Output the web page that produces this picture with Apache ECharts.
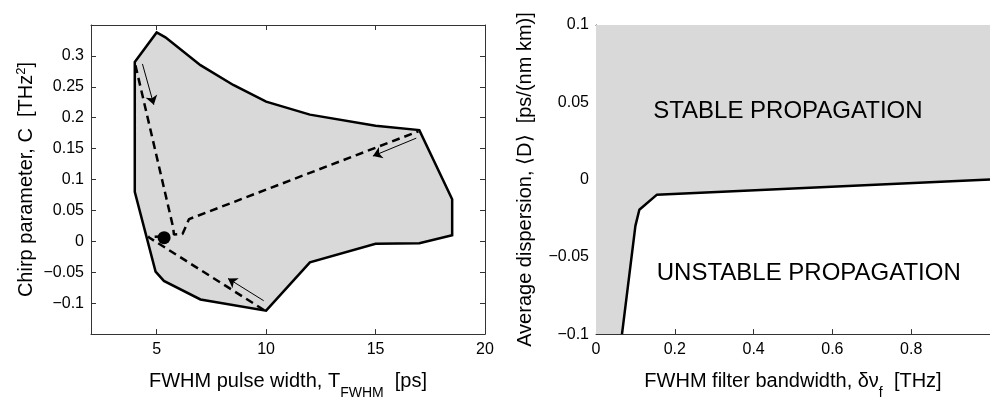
<!DOCTYPE html>
<html><head><meta charset="utf-8">
<script src="https://cdn.jsdelivr.net/npm/echarts@6/dist/echarts.min.js"></script>
<style>html,body{margin:0;padding:0;background:#fff}#c{width:990px;height:405px}</style>
</head><body><div id="c"></div><script>
// ---------- Left panel: chirp vs pulse width ----------
const regionX = [4.0, 5.0, 5.4, 7.0, 8.5, 10.0, 12.0, 15.0, 17.0, 18.5, 18.5, 17.0, 15.0, 12.0, 10.0, 7.0, 5.33, 4.95, 4.0];
const regionC = [0.29, 0.338, 0.33, 0.285, 0.253, 0.226, 0.205, 0.187, 0.18, 0.068, 0.01, -0.003, -0.004, -0.034, -0.112, -0.094, -0.064, -0.049, 0.08];
const pathAX = [4.03, 5.75, 5.79, 6.18, 6.48, 16.96];
const pathAC = [0.285, 0.023, 0.011, 0.012, 0.036, 0.178];
const pathBX = [9.9, 4.62, 5.2];
const pathBC = [-0.111, 0.007, 0.008];
const fixedPointX = [5.34];
const fixedPointC = [0.006];
const arrowFromX = [4.35, 16.86, 9.89];
const arrowFromC = [0.287, 0.167, -0.096];
const arrowToX = [4.87, 14.88, 8.26];
const arrowToC = [0.221, 0.138, -0.060];
const leftXTicks = [5, 10, 15, 20];
const leftYTicks = [-0.1, -0.05, 0, 0.05, 0.1, 0.15, 0.2, 0.25, 0.3];
// ---------- Right panel: dispersion vs filter bandwidth ----------
const bandwidth = [0.066, 0.1, 0.11, 0.154, 1.0];
const dispersion = [-0.1, -0.03, -0.0195, -0.0099, 0.0];
const rightXTicks = [0, 0.2, 0.4, 0.6, 0.8];
const rightYTicks = [-0.1, -0.05, 0, 0.05, 0.1];

const FONT = '"Liberation Sans", Arial, Helvetica, sans-serif';
const TXT = '#000';
const GRAY = '#d9d9d9';
const fmt = v => (v < 0 ? '\u2212' + String(-v) : String(v));
const lineStyleAxis = {color: '#333', width: 1};

function axis(gridIndex, pos, min, max, ticks, labels, extra) {
  return Object.assign({
    type: 'value', gridIndex, position: pos, min, max,
    axisLine: {show: true, onZero: false, lineStyle: lineStyleAxis},
    axisTick: ticks ? {show: true, inside: true, length: 5, customValues: ticks, lineStyle: lineStyleAxis} : {show: false},
    axisLabel: labels ? {show: true, customValues: labels, formatter: fmt, fontSize: 16, color: TXT, fontFamily: FONT, margin: 7} : {show: false},
    splitLine: {show: false}
  }, extra || {});
}

function polygonRenderer(xs, ys, style) {
  return function (params, api) {
    const pts = xs.map((x, i) => api.coord([x, ys[i]]));
    return {type: 'polygon', shape: {points: pts}, style: style};
  };
}

const rX = [0].concat(bandwidth, [1, 0]);
const rY = [-0.1].concat(dispersion, [0.1, 0.1]);

const option = {
  animation: false,
  backgroundColor: '#fff',
  textStyle: {fontFamily: FONT},
  grid: [
    {left: 91, top: 25, width: 394, height: 313},
    {left: 596, top: 25, width: 398, height: 315}
  ],
  xAxis: [
    axis(0, 'bottom', 2, 20, leftXTicks, leftXTicks, {
      name: 'FWHM pulse width, T{sub|FWHM}  [ps]', nameLocation: 'middle', nameGap: 24,
      nameTextStyle: {fontSize: 20, color: TXT, fontFamily: FONT,
        rich: {sub: {fontSize: 14, lineHeight: 14, padding: [24, 0, 0, 0], color: TXT, fontFamily: FONT}}}
    }),
    axis(0, 'top', 2, 20, leftXTicks, null),
    axis(1, 'bottom', 0, 1, rightXTicks, rightXTicks, {
      name: 'FWHM filter bandwidth, \u03b4\u03bd{sub|f}  [THz]', nameLocation: 'middle', nameGap: 22,
      nameTextStyle: {fontSize: 20, color: TXT, fontFamily: FONT,
        rich: {sub: {fontSize: 14, lineHeight: 14, padding: [24, 0, 0, 0], color: TXT, fontFamily: FONT}}}
    }),
    axis(1, 'top', 0, 1, null, null)
  ],
  yAxis: [
    axis(0, 'left', -0.15, 0.35, leftYTicks, leftYTicks, {
      name: 'Chirp parameter, C  [THz{sup|2}]', nameLocation: 'middle', nameGap: 55,
      nameTextStyle: {fontSize: 20, color: TXT, fontFamily: FONT,
        rich: {sup: {fontSize: 13, lineHeight: 13, padding: [0, 0, 10, 0], color: TXT, fontFamily: FONT}}}
    }),
    axis(0, 'right', -0.15, 0.35, leftYTicks, null),
    axis(1, 'left', -0.1, 0.1, null, rightYTicks, {
      name: 'Average dispersion, \u27e8D\u27e9  [ps/(nm km)]', nameLocation: 'middle', nameGap: 61,
      nameTextStyle: {fontSize: 20, color: TXT, fontFamily: FONT}
    })
  ],
  series: [
    {
      type: 'custom', xAxisIndex: 0, yAxisIndex: 0, silent: true,
      data: [[regionX[0], regionC[0]]],
      renderItem: polygonRenderer(regionX, regionC, {fill: GRAY, stroke: '#000', lineWidth: 2.5, lineJoin: 'miter'}),
      z: 1
    },
    {
      type: 'line', xAxisIndex: 0, yAxisIndex: 0, symbol: 'none', z: 3,
      data: pathAX.map((x, i) => [x, pathAC[i]]),
      lineStyle: {color: '#000', width: 2.5, type: [8, 5]}
    },
    {
      type: 'line', xAxisIndex: 0, yAxisIndex: 0, symbol: 'none', z: 3,
      data: pathBX.map((x, i) => [x, pathBC[i]]),
      lineStyle: {color: '#000', width: 2.5, type: [8, 5]}
    },
    {
      type: 'lines', coordinateSystem: 'cartesian2d', xAxisIndex: 0, yAxisIndex: 0, z: 4,
      symbol: ['none', 'arrow'], symbolSize: 9,
      lineStyle: {color: '#000', width: 1, opacity: 1},
      data: arrowFromX.map((x, i) => ({coords: [[x, arrowFromC[i]], [arrowToX[i], arrowToC[i]]]}))
    },
    {
      type: 'scatter', xAxisIndex: 0, yAxisIndex: 0, z: 5, symbolSize: 13,
      itemStyle: {color: '#000', opacity: 1},
      data: fixedPointX.map((x, i) => [x, fixedPointC[i]])
    },
    {
      type: 'custom', xAxisIndex: 2, yAxisIndex: 2, silent: true, z: 1,
      data: [[rX[0], rY[0]]],
      renderItem: polygonRenderer(rX, rY, {fill: GRAY})
    },
    {
      type: 'line', xAxisIndex: 2, yAxisIndex: 2, symbol: 'none', z: 3,
      data: bandwidth.map((x, i) => [x, dispersion[i]]),
      lineStyle: {color: '#000', width: 2.5}
    },
    {
      type: 'scatter', xAxisIndex: 2, yAxisIndex: 2, symbolSize: 0, silent: true, z: 6,
      itemStyle: {opacity: 1, color: '#000'},
      label: {show: true, position: 'inside', fontSize: 24, color: TXT, opacity: 1, fontFamily: FONT,
        formatter: p => p.name},
      data: [
        {name: 'STABLE PROPAGATION', value: [0.487, 0.044]},
        {name: 'UNSTABLE PROPAGATION', value: [0.54, -0.061]}
      ]
    }
  ]
};
const chart = echarts.init(document.getElementById('c'));
chart.setOption(option);
</script></body></html>
